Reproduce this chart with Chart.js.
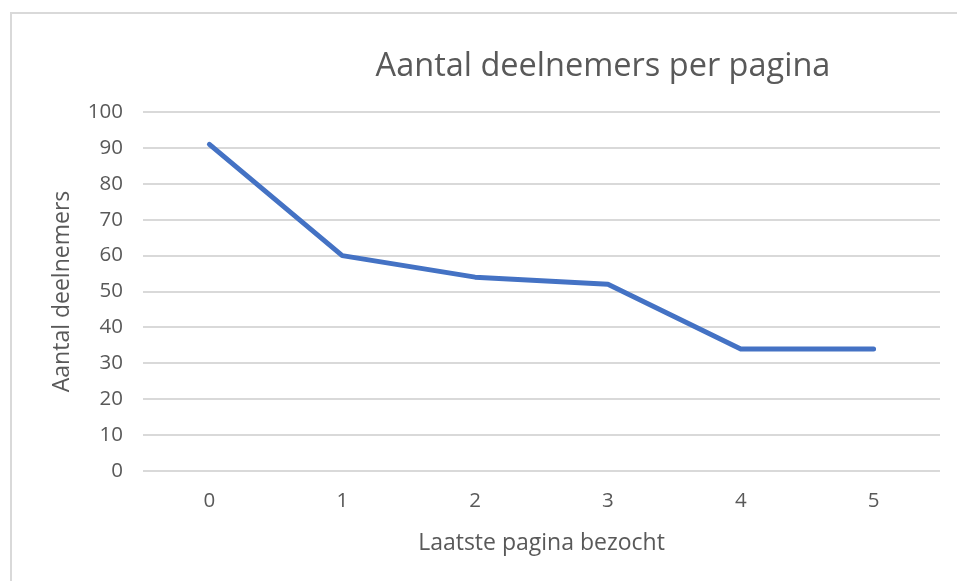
<!DOCTYPE html>
<html>
<head>
<meta charset="utf-8">
<script src="https://cdn.jsdelivr.net/npm/chart.js@4"></script>
<style>
  html, body { margin: 0; padding: 0; background: #fff; overflow: hidden; }
  #wrap { position: relative; width: 957px; height: 581px; }
  #frame { position: absolute; left: 10px; top: 12px; width: 2000px; height: 2000px;
           border-left: 2px solid #D9D9D9; border-top: 2px solid #D9D9D9; box-sizing: border-box; pointer-events: none; }
  canvas { position: absolute; left: 0; top: 0; }
</style>
</head>
<body>
<div id="wrap">
  <canvas id="c" width="957" height="581"></canvas>
  <div id="frame"></div>
</div>
<script>
const chartTitle = "Aantal deelnemers per pagina";
const xAxisTitle = "Laatste pagina bezocht";
const yAxisTitle = "Aantal deelnemers";
const categories = ["0", "1", "2", "3", "4", "5"];
const participants = [91, 60, 54, 52, 34, 34];

const FONT = "'Open Sans', Lato, sans-serif";
const TEXT = "#595959";

const titlePlugin = {
  id: 'offsetTitle',
  afterDraw(chart) {
    const ctx = chart.ctx;
    ctx.save();
    ctx.font = "32.5px " + FONT;
    ctx.fillStyle = TEXT;
    ctx.textAlign = "center";
    ctx.textBaseline = "middle";
    ctx.fillText(chartTitle, 603, 67);
    ctx.restore();
  }
};

new Chart(document.getElementById('c'), {
  type: 'line',
  data: {
    labels: categories,
    datasets: [{
      label: yAxisTitle,
      data: participants,
      borderColor: '#4472C4',
      backgroundColor: '#4472C4',
      borderWidth: 5,
      pointRadius: 0,
      pointHoverRadius: 0,
      tension: 0,
      borderCapStyle: 'round',
      borderJoinStyle: 'round'
    }]
  },
  options: {
    responsive: false,
    animation: false,
    events: [],
    layout: { padding: { left: 10, top: 112, right: 17, bottom: 0 } },
    plugins: {
      legend: { display: false },
      title: { display: false },
      tooltip: { enabled: false }
    },
    scales: {
      x: {
        offset: true,
        grid: { display: false, drawTicks: false },
        border: { display: false },
        ticks: { color: TEXT, font: { family: FONT, size: 20.5 }, padding: 18 },
        title: { display: true, text: xAxisTitle, color: TEXT, font: { family: FONT, size: 23 }, padding: { top: 0, bottom: 24 } },
        afterFit(scale) { scale.height = 110; }
      },
      y: {
        min: 0, max: 100,
        grid: { color: '#D9D9D9', lineWidth: 2, drawTicks: false },
        border: { display: false },
        ticks: { stepSize: 10, color: TEXT, font: { family: FONT, size: 20.5 }, padding: 20 },
        title: { display: true, text: yAxisTitle, color: TEXT, font: { family: FONT, size: 23 }, padding: { top: 39, bottom: 0 } },
        afterFit(scale) { scale.width = 133; }
      }
    }
  },
  plugins: [titlePlugin]
});
</script>
</body>
</html>
